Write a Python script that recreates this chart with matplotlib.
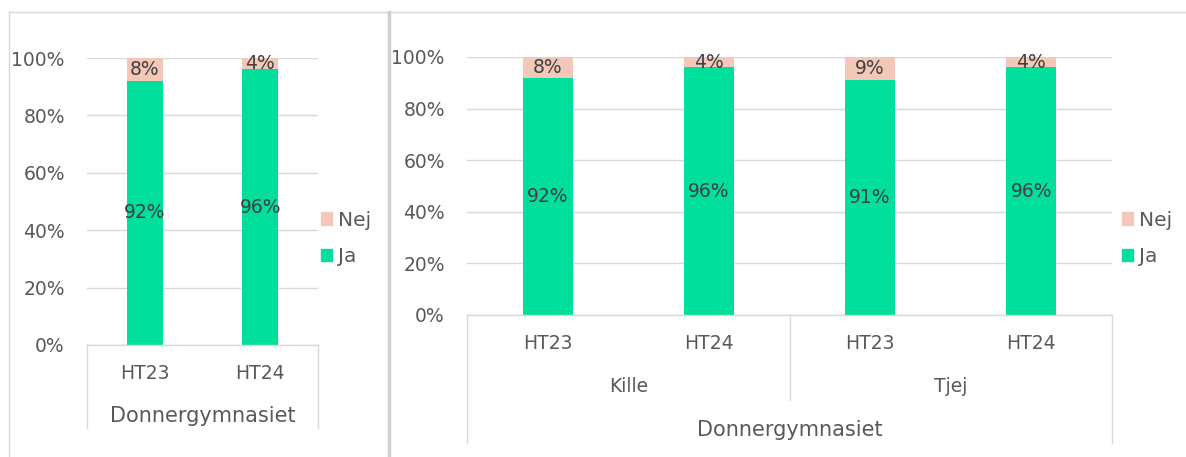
import numpy as np
import matplotlib
matplotlib.use("Agg")
import matplotlib.pyplot as plt
from matplotlib.lines import Line2D
from matplotlib.patches import Patch

# data
left_terms = ["HT23", "HT24"]
left_group = "Donnergymnasiet"
left_ja = [0.92, 0.96]
left_nej = [0.08, 0.04]

right_terms = ["HT23", "HT24", "HT23", "HT24"]
right_genders = ["Kille", "Tjej"]
right_group = "Donnergymnasiet"
right_ja = [0.92, 0.96, 0.91, 0.96]
right_nej = [0.08, 0.04, 0.09, 0.04]

GREEN = "#00DF9C"
PINK = "#F3C8B9"
GRID = "#D9D9D9"
TICK = "#595959"
LABEL = "#404040"
FS = 13.5

W, H = 1186, 457
fig = plt.figure(figsize=(W / 100, H / 100), dpi=100)
fig.patch.set_facecolor("white")


def px_axes(x0, x1, ytop, ybot):
    return fig.add_axes([x0 / W, (H - ybot) / H, (x1 - x0) / W, (ybot - ytop) / H])


def draw_panel(ax, ja, nej, bar_w, leg_x, leg_y):
    x = np.arange(len(ja))
    ax.bar(x, ja, width=bar_w, color=GREEN, zorder=2)
    ax.bar(x, nej, bottom=ja, width=bar_w, color=PINK, zorder=2)
    for xi, j, n in zip(x, ja, nej):
        ax.text(xi, j / 2, f"{round(j * 100)}%", ha="center", va="center",
                fontsize=FS, color=LABEL, zorder=3)
        ax.text(xi, j + n / 2, f"{round(n * 100)}%", ha="center", va="center",
                fontsize=FS, color=LABEL, zorder=3)
    ax.set_xlim(-0.5, len(ja) - 0.5)
    ax.set_ylim(0, 1)
    ax.set_yticks(np.arange(0, 1.01, 0.2))
    ax.set_yticklabels([f"{int(round(v * 100))}%" for v in np.arange(0, 1.01, 0.2)])
    ax.tick_params(axis="y", length=0, pad=16, labelsize=FS, labelcolor=TICK)
    ax.set_xticks([])
    for s in ax.spines.values():
        s.set_visible(False)
    ax.grid(True, axis="y", color=GRID, lw=1, zorder=0)
    ax.set_axisbelow(True)
    legend = ax.legend(handles=[Patch(color=PINK, label="Nej"), Patch(color=GREEN, label="Ja")],
                       frameon=False, fontsize=14.5, handlelength=0.55, handleheight=0.55,
                       handletextpad=0.3, labelspacing=0.88, borderaxespad=0,
                       loc="center left", bbox_to_anchor=(leg_x, leg_y))
    for t in legend.get_texts():
        t.set_color(TICK)


def vline(ax, xd, ybot_axes):
    ax.plot([xd, xd], [0, ybot_axes], transform=ax.get_xaxis_transform(),
            color=GRID, lw=1, clip_on=False, zorder=1)


# left panel
axl = px_axes(87, 318, 58, 345)
draw_panel(axl, left_ja, left_nej, 0.31, 0.978, 0.371)
tr = axl.get_xaxis_transform()
for i, t in enumerate(left_terms):
    axl.text(i, -0.101, t, transform=tr, ha="center", va="center", fontsize=FS, color=TICK)
axl.text(0.5, -0.247, left_group, transform=tr, ha="center", va="center", fontsize=15, color=TICK)
axl.plot([-0.5, 1.5], [0, 0], transform=tr, color=GRID, lw=1, clip_on=False)
vline(axl, -0.5, -0.289)
vline(axl, 1.5, -0.289)

# right panel
axr = px_axes(467, 1112, 57, 315)
draw_panel(axr, right_ja, right_nej, 0.31, 1.003, 0.2965)
tr = axr.get_xaxis_transform()
for i, t in enumerate(right_terms):
    axr.text(i, -0.112, t, transform=tr, ha="center", va="center", fontsize=FS, color=TICK)
for k, g in enumerate(right_genders):
    axr.text(2 * k + 0.5, -0.279, g, transform=tr, ha="center", va="center", fontsize=FS, color=TICK)
axr.text(1.5, -0.446, right_group, transform=tr, ha="center", va="center", fontsize=15, color=TICK)
axr.plot([-0.5, 3.5], [0, 0], transform=tr, color=GRID, lw=1, clip_on=False)
vline(axr, -0.5, -0.496)
vline(axr, 1.5, -0.33)
vline(axr, 3.5, -0.496)

# panel frames
def fline(x0, y0, x1, y1, lw=1.0, color="#D9D9D9"):
    fig.add_artist(Line2D([x0 / W, x1 / W], [(H - y0) / H, (H - y1) / H],
                          transform=fig.transFigure, color=color, lw=lw))

fline(9, 12, 1186, 12)
fline(9, 12, 9, 457)
fline(388.5, 12, 388.5, 457, lw=2.5, color="#D0D0D0")

fig.savefig("out.png", dpi=100)
